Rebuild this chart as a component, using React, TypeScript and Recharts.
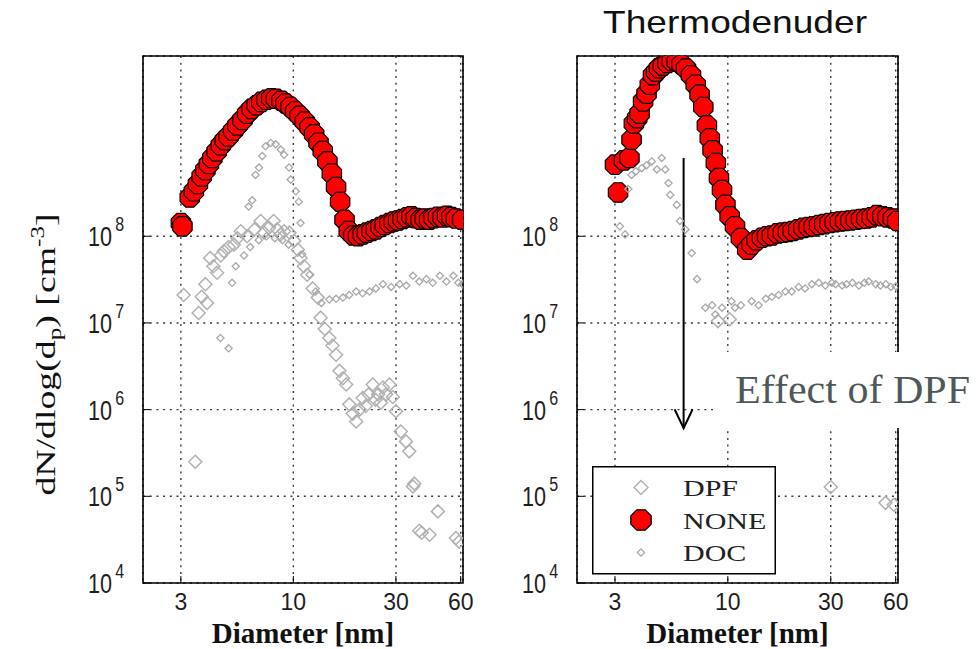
import {
  ScatterChart,
  Scatter,
  XAxis,
  YAxis,
  CartesianGrid,
  ReferenceArea,
  ReferenceLine,
  Legend,
} from "recharts";

// ── Axes ──────────────────────────────────────────────────────────────────────

const X_TICKS = [3, 10, 30, 60];
const Y_TICKS = [1e4, 1e5, 1e6, 1e7, 1e8];
const X_DOMAIN = [2, 61.5];
const Y_DOMAIN = [1e4, 1.2e10];

const SERIES = ["DPF", "NONE", "DOC"];

// ── Left panel (no thermodenuder) ─────────────────────────────────────────────

const L_NONE_D = [3.0, 3.05, 3.3, 3.45, 3.6, 3.75, 3.9, 4.05, 4.2, 4.4, 4.6, 4.8, 5.0, 5.25, 5.5, 5.8, 6.1, 6.4, 6.75, 7.1, 7.5, 7.9, 8.3, 8.8, 9.2, 9.7, 10.2, 10.7, 11.3, 11.9, 12.5, 13.1, 13.7, 14.4, 15.1, 15.8, 16.5, 17.3, 18.1, 19.0, 20.0, 21.0, 22.0, 23.1, 24.2, 25.4, 26.6, 28.0, 29.3, 30.7, 32.2, 33.8, 35.4, 37.1, 39.0, 40.8, 42.8, 44.9, 47.1, 49.4, 51.8, 54.3, 57.0, 61.0];
const L_NONE_N = [1.42e8, 1.3e8, 2.8e8, 3.3e8, 4.0e8, 4.9e8, 5.8e8, 6.8e8, 8.0e8, 9.5e8, 1.12e9, 1.28e9, 1.42e9, 1.65e9, 1.9e9, 2.2e9, 2.6e9, 2.95e9, 3.25e9, 3.55e9, 3.75e9, 3.9e9, 3.85e9, 3.65e9, 3.4e9, 3.1e9, 2.75e9, 2.45e9, 2.1e9, 1.8e9, 1.5e9, 1.2e9, 9.6e8, 7.3e8, 5.3e8, 3.7e8, 2.5e8, 1.55e8, 1.15e8, 1.02e8, 1.0e8, 1.05e8, 1.1e8, 1.15e8, 1.2e8, 1.28e8, 1.35e8, 1.42e8, 1.48e8, 1.52e8, 1.58e8, 1.65e8, 1.7e8, 1.62e8, 1.55e8, 1.6e8, 1.55e8, 1.62e8, 1.68e8, 1.65e8, 1.72e8, 1.66e8, 1.6e8, 1.55e8];

const L_DPF_D = [3.09, 3.5, 3.63, 3.75, 3.9, 3.97, 4.11, 4.25, 4.42, 4.6, 4.75, 5.0, 5.29, 5.5, 5.7, 6.1, 6.6, 7.05, 7.3, 7.7, 8.1, 8.4, 8.73, 9.06, 9.6, 10.1, 10.5, 10.8, 11.2, 11.6, 12.3, 13.0, 13.4, 14.0, 14.7, 15.2, 15.8, 16.4, 17.0, 17.6, 18.2, 18.9, 19.6, 20.3, 21.0, 21.7, 22.4, 23.4, 24.1, 24.8, 25.5, 26.1, 27.0, 28.0, 29.0, 30.0, 31.6, 33.4, 34.6, 36.0, 36.5, 38.5, 39.5, 43.0, 47.0, 57.0, 59.0];
const L_DPF_N = [2.1e7, 2.5e5, 1.3e7, 2.0e7, 2.8e7, 1.7e7, 5.6e7, 4.5e7, 3.8e7, 6.0e7, 6.7e7, 7.5e7, 8.0e7, 9.5e7, 1.14e8, 1.0e8, 1.2e8, 1.5e8, 1.1e8, 1.25e8, 1.5e8, 1.2e8, 1.05e8, 1.14e8, 1.1e8, 8.8e7, 7.0e7, 5.6e7, 4.5e7, 3.6e7, 2.5e7, 1.96e7, 1.15e7, 8.5e6, 6.7e6, 5.5e6, 4.3e6, 2.8e6, 2.3e6, 1.95e6, 1.15e6, 9.0e5, 7.3e5, 1.0e6, 1.36e6, 1.1e6, 1.5e6, 1.95e6, 1.3e6, 1.5e6, 1.2e6, 1.8e6, 1.5e6, 1.95e6, 1.4e6, 9.6e5, 5.6e5, 4.3e5, 3.3e5, 1.3e5, 1.4e5, 4.0e4, 3.8e4, 3.6e4, 6.7e4, 3.3e4, 3.0e4];

const L_DOC_D = [4.58, 5.0, 5.19, 5.4, 5.9, 6.2, 6.3, 6.44, 6.67, 6.9, 6.92, 7.17, 7.43, 7.5, 7.85, 8.2, 8.28, 8.74, 8.9, 9.06, 9.5, 9.55, 9.72, 10.26, 10.6, 10.8, 11.0, 11.9, 12.7, 13.5, 14.7, 15.8, 17.0, 18.2, 19.6, 21.0, 22.6, 24.2, 26.1, 28.5, 31.2, 33.5, 36.0, 38.5, 41.6, 44.5, 48.0, 51.5, 55.5, 58.5, 61.0];
const L_DOC_N = [6.7e6, 5.1e6, 2.9e7, 4.5e7, 6.0e7, 2.2e8, 7.5e7, 2.6e8, 5.1e8, 9.0e7, 6.2e8, 8.4e8, 1.09e9, 1.0e8, 1.19e9, 9.5e7, 1.15e9, 1.0e9, 9.0e7, 8.7e8, 8.0e7, 6.2e8, 4.5e8, 3.3e8, 2.5e8, 1.42e8, 6.2e7, 3.6e7, 2.3e7, 1.7e7, 1.86e7, 1.9e7, 1.96e7, 2.1e7, 2.3e7, 2.2e7, 2.3e7, 2.5e7, 2.8e7, 2.6e7, 2.8e7, 2.7e7, 3.5e7, 3.0e7, 3.2e7, 2.9e7, 3.5e7, 3.0e7, 3.5e7, 2.9e7, 2.8e7];

// ── Right panel (thermodenuder) ───────────────────────────────────────────────

const R_NONE_D = [3.0, 3.1, 3.3, 3.5, 3.58, 3.67, 3.8, 3.9, 4.05, 4.2, 4.35, 4.5, 4.65, 4.8, 5.0, 5.25, 5.5, 5.8, 6.1, 6.4, 6.75, 7.1, 7.4, 7.7, 8.0, 8.25, 8.5, 8.8, 9.1, 9.4, 9.75, 10.2, 10.8, 11.5, 12.3, 12.9, 13.6, 14.4, 15.2, 16.0, 17.0, 18.0, 19.0, 20.0, 21.2, 22.4, 23.7, 25.0, 26.5, 28.0, 29.6, 31.3, 33.1, 35.0, 37.0, 39.2, 41.5, 43.9, 46.4, 49.1, 52.0, 55.0, 58.2, 61.0];
const R_NONE_N = [6.7e8, 3.2e8, 7.5e8, 8.0e8, 1.3e9, 2.0e9, 2.3e9, 2.6e9, 3.6e9, 4.4e9, 5.6e9, 7.2e9, 7.9e9, 8.7e9, 9.3e9, 1.0e10, 1.05e10, 1.03e10, 9.6e9, 8.6e9, 7.2e9, 5.6e9, 4.3e9, 3.1e9, 1.9e9, 1.35e9, 9.8e8, 7.0e8, 4.7e8, 3.4e8, 2.3e8, 1.7e8, 1.3e8, 9.5e7, 7.0e7, 8.0e7, 9.0e7, 9.6e7, 1.0e8, 1.02e8, 1.08e8, 1.1e8, 1.12e8, 1.15e8, 1.2e8, 1.25e8, 1.28e8, 1.3e8, 1.35e8, 1.38e8, 1.42e8, 1.45e8, 1.48e8, 1.5e8, 1.52e8, 1.55e8, 1.58e8, 1.6e8, 1.65e8, 1.75e8, 1.7e8, 1.65e8, 1.6e8, 1.5e8];

const R_DPF_D = [9.0, 10.2, 30.0, 53.8, 58.8];
const R_DPF_N = [1.05e7, 1.1e7, 1.28e5, 8.4e4, 8.0e4];

const R_DOC_D = [3.16, 3.34, 3.46, 3.58, 3.75, 3.99, 4.2, 4.44, 4.69, 4.94, 5.13, 5.31, 5.41, 5.8, 6.0, 6.36, 6.8, 7.2, 7.87, 8.46, 8.75, 9.4, 10.4, 10.8, 11.5, 12.9, 13.9, 15.0, 16.0, 17.2, 18.5, 19.8, 21.3, 22.8, 24.5, 26.4, 28.3, 30.4, 31.6, 33.9, 35.5, 37.8, 40.5, 43.0, 45.0, 48.5, 51.0, 54.0, 57.0, 60.0];
const R_DOC_N = [1.3e8, 1.05e8, 3.5e8, 5.1e8, 5.6e8, 6.1e8, 6.6e8, 7.3e8, 5.9e8, 8.0e8, 5.9e8, 4.1e8, 3.0e8, 2.3e8, 1.5e8, 1.2e8, 6.4e7, 3.2e7, 1.5e7, 1.6e7, 1.25e7, 1.5e7, 1.78e7, 1.5e7, 1.6e7, 1.78e7, 1.6e7, 1.9e7, 2.0e7, 2.1e7, 2.3e7, 2.3e7, 2.6e7, 2.5e7, 2.8e7, 2.9e7, 2.7e7, 2.9e7, 2.8e7, 2.7e7, 2.8e7, 2.9e7, 2.7e7, 2.9e7, 3.0e7, 2.8e7, 2.7e7, 2.8e7, 2.6e7, 2.65e7];

// arrow annotation in the right panel (diameter, from / to concentration)
const ARROW_D = 6.24;
const ARROW_FROM = 8e8;
const ARROW_TO = 6.1e5;

const zip = (d: number[], n: number[]) => d.map((x, i) => ({ d: x, n: n[i] }));

// ── Styles ────────────────────────────────────────────────────────────────────

const SANS = "Arial, 'Liberation Sans', Helvetica, sans-serif";
const SERIF = "'Times New Roman', 'Liberation Serif', Times, serif";
const DPF_GRAY = "#b2b2b2";
const DOC_GRAY = "#a9a9a9";

// ── Markers ───────────────────────────────────────────────────────────────────

function octagonPoints(cx: number, cy: number, r: number) {
  const pts: string[] = [];
  for (let k = 0; k < 8; k++) {
    const a = (Math.PI / 8) * (2 * k + 1);
    pts.push(`${cx + r * Math.cos(a)},${cy + r * Math.sin(a)}`);
  }
  return pts.join(" ");
}

function NoneMarker({ cx, cy }: any) {
  if (cx == null || cy == null) return <g />;
  return <polygon points={octagonPoints(cx, cy, 10.5)} fill="#ff0000" stroke="#000" strokeWidth={1.2} />;
}

function diamond(cx: number, cy: number, h: number) {
  return `${cx},${cy - h} ${cx + h},${cy} ${cx},${cy + h} ${cx - h},${cy}`;
}

function DpfMarker({ cx, cy }: any) {
  if (cx == null || cy == null) return <g />;
  return <polygon points={diamond(cx, cy, 6.5)} fill="none" stroke={DPF_GRAY} strokeWidth={1.5} />;
}

function DocMarker({ cx, cy }: any) {
  if (cx == null || cy == null) return <g />;
  return <polygon points={diamond(cx, cy, 3.6)} fill="none" stroke={DOC_GRAY} strokeWidth={1.3} />;
}

// ── Ticks & titles ────────────────────────────────────────────────────────────

function XTick({ x, y, payload }: any) {
  return (
    <text x={x} y={y + 34} textAnchor="middle" fontFamily={SANS} fontSize={23} fill="#1e1e1e">
      {payload.value}
    </text>
  );
}

function YTick({ x, y, payload }: any) {
  const exp = Math.round(Math.log10(payload.value));
  return (
    <text transform={`translate(${x - 62},${y + 10}) scale(0.8,1)`} fontFamily={SANS} fontSize={27} fill="#1e1e1e">
      10<tspan fontSize={20} dx={4} dy={-15}>{exp}</tspan>
    </text>
  );
}

const EmptyTick = () => <g />;

function XTitle({ viewBox }: any) {
  if (!viewBox) return null;
  return (
    <text x={viewBox.x + viewBox.width / 2} y={viewBox.y + viewBox.height - 6} textAnchor="middle"
      fontFamily={SERIF} fontSize={29} fontWeight="bold" fill="#111">
      Diameter [nm]
    </text>
  );
}

function YTitle({ viewBox }: any) {
  if (!viewBox) return null;
  const cx = viewBox.x - 28;
  const cy = viewBox.y + viewBox.height / 2 + 35;
  return (
    <text transform={`translate(${cx},${cy}) rotate(-90) scale(1.4,1)`} textAnchor="middle"
      fontFamily={SERIF} fontSize={27} fill="#111">
      dN/dlog(d<tspan fontSize={18} dy={6}>p</tspan>
      <tspan dy={-6}>) [cm</tspan>
      <tspan fontSize={18} dy={-11}>-3</tspan>
      <tspan dy={11}>]</tspan>
    </text>
  );
}

function Arrow({ x1, y1, x2, y2 }: any) {
  return (
    <g stroke="#000" strokeWidth={2} fill="none">
      <line x1={x1} y1={y1} x2={x2} y2={y2} />
      <polyline points={`${x2 - 9},${y2 - 19} ${x2},${y2} ${x2 + 9},${y2 - 19}`} />
    </g>
  );
}

// ── Legend ────────────────────────────────────────────────────────────────────

function LegendBox() {
  return (
    <svg width={184} height={109} style={{ display: "block" }}>
      <rect x={0.75} y={0.75} width={182.5} height={107} fill="#fff" stroke="#000" strokeWidth={1.5} />
      {SERIES.map((name, i) => {
        const cy = 21.5 + i * 32.5;
        const cx = 49;
        return (
          <g key={name}>
            {name === "DPF" && <polygon points={diamond(cx, cy, 7)} fill="none" stroke={DPF_GRAY} strokeWidth={1.5} />}
            {name === "NONE" && <polygon points={octagonPoints(cx, cy, 11)} fill="#ff0000" stroke="#000" strokeWidth={1.3} />}
            {name === "DOC" && <polygon points={diamond(cx, cy, 3.6)} fill="none" stroke={DOC_GRAY} strokeWidth={1.3} />}
            <text transform={`translate(91,${cy + 8.5}) scale(1.25,1)`} fontFamily={SERIF} fontSize={24} fill="#222">
              {name}
            </text>
          </g>
        );
      })}
    </svg>
  );
}

// ── Panel ─────────────────────────────────────────────────────────────────────

interface PanelProps {
  left: number;
  width: number;
  marginLeft: number;
  marginRight: number;
  none: { d: number; n: number }[];
  dpf: { d: number; n: number }[];
  doc: { d: number; n: number }[];
  yTitle?: boolean;
  legendLeft?: number;
  arrow?: boolean;
}

function Panel({ left, width, marginLeft, marginRight, none, dpf, doc, yTitle, legendLeft, arrow }: PanelProps) {
  return (
    <div style={{ position: "absolute", left, top: 0 }}>
      <ScatterChart width={width} height={649} margin={{ top: 56, right: marginRight, bottom: 0, left: marginLeft }}>
        <CartesianGrid stroke="#3a3a3a" strokeDasharray="2 4.7" strokeWidth={1.4} />
        <XAxis type="number" dataKey="d" scale="log" domain={X_DOMAIN} allowDataOverflow ticks={X_TICKS}
          interval={0} height={66} axisLine={false} tickSize={-7} tickMargin={0}
          tickLine={{ stroke: "#000" }} tick={<XTick />} label={<XTitle />} />
        <XAxis xAxisId="top" orientation="top" type="number" dataKey="d" scale="log" domain={X_DOMAIN}
          allowDataOverflow ticks={X_TICKS} interval={0} height={0} axisLine={false} tickSize={-7}
          tickLine={{ stroke: "#000" }} tick={EmptyTick} />
        <YAxis type="number" dataKey="n" scale="log" domain={Y_DOMAIN} allowDataOverflow ticks={Y_TICKS}
          interval={0} width={60} axisLine={false} tickSize={-7} tickMargin={0}
          tickLine={{ stroke: "#000" }} tick={<YTick />} label={yTitle ? <YTitle /> : undefined} />
        <YAxis yAxisId="right" orientation="right" type="number" dataKey="n" scale="log" domain={Y_DOMAIN}
          allowDataOverflow ticks={Y_TICKS} interval={0} width={0} axisLine={false} tickSize={-7}
          tickLine={{ stroke: "#000" }} tick={EmptyTick} />
        <ReferenceArea x1={X_DOMAIN[0]} x2={X_DOMAIN[1]} y1={Y_DOMAIN[0]} y2={Y_DOMAIN[1]}
          fill="none" fillOpacity={0} stroke="#000" strokeWidth={1.6} />
        <Scatter name="NONE" data={none} shape={NoneMarker} isAnimationActive={false} />
        <Scatter name="DPF" data={dpf} shape={DpfMarker} isAnimationActive={false} />
        <Scatter name="DOC" data={doc} shape={DocMarker} isAnimationActive={false} />
        {arrow && (
          <ReferenceLine segment={[{ x: ARROW_D, y: ARROW_FROM }, { x: ARROW_D, y: ARROW_TO }]}
            shape={Arrow} ifOverflow="visible" />
        )}
        {legendLeft != null && (
          <Legend layout="horizontal" verticalAlign="middle" align="center"
            wrapperStyle={{ left: legendLeft, top: 466, width: 184, height: 109 }}
            content={() => <LegendBox />} />
        )}
      </ScatterChart>
    </div>
  );
}

// ── App ───────────────────────────────────────────────────────────────────────

export default function App() {
  return (
    <div style={{ position: "absolute", left: 0, top: 0, width: 977, height: 649, background: "#fff", overflow: "hidden" }}>
      <Panel left={0} width={480} marginLeft={83} marginRight={17}
        none={zip(L_NONE_D, L_NONE_N)} dpf={zip(L_DPF_D, L_DPF_N)} doc={zip(L_DOC_D, L_DOC_N)} yTitle />
      <Panel left={480} width={440} marginLeft={37} marginRight={22}
        none={zip(R_NONE_D, R_NONE_N)} dpf={zip(R_DPF_D, R_DPF_N)} doc={zip(R_DOC_D, R_DOC_N)}
        legendLeft={112} arrow />
      <svg width={977} height={649} style={{ position: "absolute", left: 0, top: 0, pointerEvents: "none" }}>
        <text x={735} y={33} textAnchor="middle" fontFamily={SANS} fontSize={32}
          textLength={264} lengthAdjust="spacingAndGlyphs" fill="#111">Thermodenuder</text>
        <rect x={713} y={352} width={264} height={76} fill="#fff" />
        <text x={735} y={403} fontFamily={SERIF} fontSize={41} textLength={235}
          lengthAdjust="spacingAndGlyphs" fill="#4d5959">Effect of DPF</text>
      </svg>
    </div>
  );
}
